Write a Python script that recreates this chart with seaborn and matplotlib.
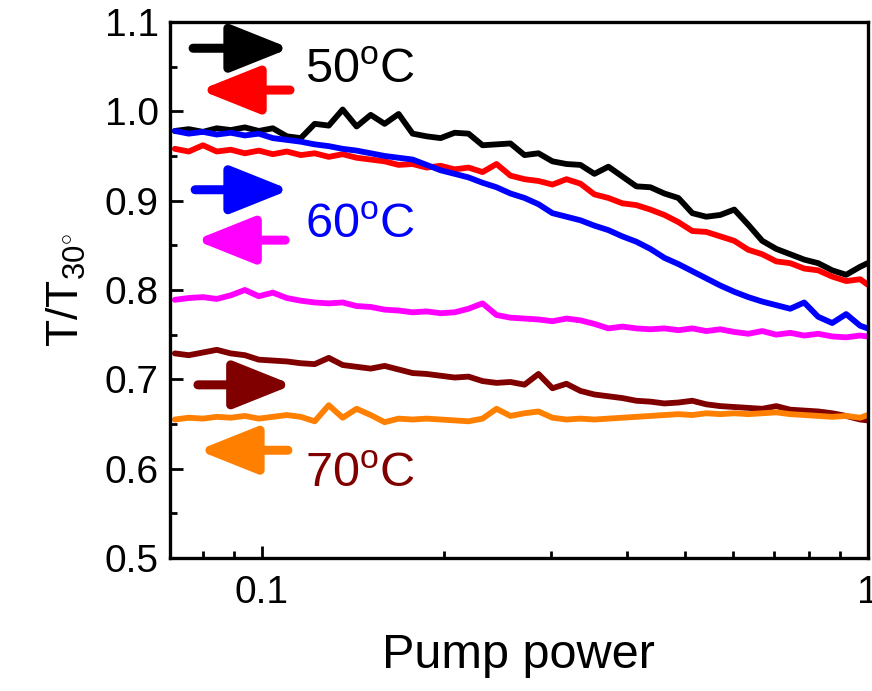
import numpy as np
import pandas as pd
import matplotlib
matplotlib.use("Agg")
import matplotlib.pyplot as plt
from matplotlib.ticker import FixedLocator, NullFormatter, MultipleLocator
import seaborn as sns

# pump power grid (log spaced)
pump_power = [0.0718, 0.0757, 0.0799, 0.0842, 0.0888, 0.0937, 0.0988, 0.1042, 0.1099, 0.1159,
              0.1222, 0.1289, 0.1359, 0.1433, 0.1512, 0.1594, 0.1681, 0.1773, 0.1870, 0.1972,
              0.2080, 0.2193, 0.2313, 0.2439, 0.2572, 0.2713, 0.2861, 0.3017, 0.3182, 0.3356,
              0.3539, 0.3732, 0.3936, 0.4151, 0.4378, 0.4617, 0.4869, 0.5135, 0.5415, 0.5711,
              0.6023, 0.6352, 0.6699, 0.7065, 0.7451, 0.7857, 0.8286, 0.8739, 0.9216, 0.9720, 1.0]

t50_up = [0.978, 0.980, 0.977, 0.981, 0.979, 0.982, 0.978, 0.981, 0.972, 0.970,
          0.986, 0.984, 1.002, 0.983, 0.996, 0.986, 0.997, 0.975, 0.972, 0.970,
          0.976, 0.975, 0.962, 0.963, 0.964, 0.951, 0.953, 0.944, 0.941, 0.940,
          0.930, 0.938, 0.927, 0.916, 0.915, 0.908, 0.903, 0.886, 0.882, 0.884,
          0.890, 0.873, 0.855, 0.846, 0.840, 0.834, 0.830, 0.822, 0.817, 0.826, 0.830]

t50_down = [0.958, 0.955, 0.962, 0.955, 0.957, 0.953, 0.956, 0.952, 0.955, 0.951,
            0.953, 0.949, 0.952, 0.948, 0.946, 0.944, 0.940, 0.941, 0.937, 0.939,
            0.935, 0.937, 0.932, 0.941, 0.928, 0.924, 0.922, 0.918, 0.924, 0.919,
            0.907, 0.903, 0.897, 0.895, 0.890, 0.884, 0.876, 0.866, 0.865, 0.860,
            0.855, 0.845, 0.840, 0.832, 0.830, 0.824, 0.822, 0.815, 0.810, 0.812, 0.806]

t60_up = [0.978, 0.975, 0.977, 0.974, 0.976, 0.973, 0.975, 0.970, 0.968, 0.966,
          0.963, 0.961, 0.958, 0.956, 0.953, 0.950, 0.948, 0.946, 0.940, 0.934,
          0.930, 0.926, 0.920, 0.915, 0.908, 0.903, 0.896, 0.886, 0.882, 0.878,
          0.872, 0.867, 0.860, 0.854, 0.846, 0.836, 0.829, 0.821, 0.813, 0.805,
          0.798, 0.792, 0.787, 0.783, 0.779, 0.786, 0.770, 0.763, 0.773, 0.760, 0.757]

t60_down = [0.789, 0.791, 0.792, 0.790, 0.794, 0.800, 0.793, 0.797, 0.791, 0.788,
            0.786, 0.785, 0.786, 0.782, 0.781, 0.778, 0.777, 0.775, 0.776, 0.774,
            0.775, 0.779, 0.785, 0.772, 0.769, 0.768, 0.767, 0.765, 0.768, 0.766,
            0.762, 0.757, 0.759, 0.757, 0.756, 0.757, 0.755, 0.757, 0.754, 0.756,
            0.753, 0.751, 0.754, 0.750, 0.752, 0.749, 0.751, 0.748, 0.747, 0.749, 0.748]

t70_up = [0.729, 0.727, 0.730, 0.733, 0.729, 0.727, 0.722, 0.721, 0.720, 0.718,
          0.717, 0.724, 0.716, 0.714, 0.712, 0.715, 0.711, 0.707, 0.706, 0.704,
          0.702, 0.703, 0.698, 0.696, 0.697, 0.694, 0.706, 0.690, 0.695, 0.687,
          0.683, 0.681, 0.679, 0.676, 0.675, 0.673, 0.674, 0.676, 0.672, 0.670,
          0.669, 0.668, 0.667, 0.670, 0.666, 0.665, 0.664, 0.662, 0.659, 0.655, 0.654]

t70_down = [0.655, 0.657, 0.656, 0.658, 0.657, 0.659, 0.656, 0.658, 0.660, 0.658,
            0.653, 0.671, 0.657, 0.667, 0.660, 0.652, 0.656, 0.655, 0.656, 0.655,
            0.654, 0.653, 0.656, 0.667, 0.659, 0.662, 0.664, 0.657, 0.655, 0.656,
            0.655, 0.656, 0.657, 0.658, 0.659, 0.660, 0.661, 0.660, 0.662, 0.661,
            0.662, 0.661, 0.662, 0.663, 0.661, 0.660, 0.659, 0.658, 0.659, 0.657, 0.660]

series_names = ["50 up", "50 down", "60 up", "60 down", "70 up", "70 down"]
series_values = [t50_up, t50_down, t60_up, t60_down, t70_up, t70_down]
colors = ["#000000", "#ff0000", "#0000ff", "#ff00ff", "#800000", "#ff8000"]

df = pd.concat([pd.DataFrame({"power": pump_power, "T": v, "run": n})
                for n, v in zip(series_names, series_values)], ignore_index=True)

sns.set_style("ticks")
plt.rcParams["font.family"] = ["Liberation Sans", "DejaVu Sans"]
plt.rcParams["mathtext.fontset"] = "custom"
plt.rcParams["mathtext.rm"] = "Liberation Sans"
plt.rcParams["mathtext.it"] = "Liberation Sans"
for key in ["text.color", "axes.labelcolor", "xtick.color", "ytick.color", "axes.edgecolor"]:
    plt.rcParams[key] = "black"

fig = plt.figure(figsize=(8.72, 6.91), dpi=100)
ax = fig.add_axes([0.195, 0.1925, 0.8, 0.7757])

sns.lineplot(data=df, x="power", y="T", hue="run", palette=colors,
             linewidth=4.2, legend=False, ax=ax, sort=False)

ax.set_xscale("log")
ax.set_xlim(0.0705, 1.0)
ax.set_ylim(0.5, 1.1)
ax.xaxis.set_major_locator(FixedLocator([0.1, 1.0]))
ax.set_xticklabels(["0.1", "1"])
ax.xaxis.set_minor_locator(FixedLocator([0.08, 0.09, 0.2, 0.3, 0.4, 0.5, 0.6, 0.7, 0.8, 0.9]))
ax.xaxis.set_minor_formatter(NullFormatter())
ax.yaxis.set_minor_locator(MultipleLocator(0.05))
ax.set_yticks([0.5, 0.6, 0.7, 0.8, 0.9, 1.0, 1.1])
ax.set_yticklabels(["0.5", "0.6", "0.7", "0.8", "0.9", "1.0", "1.1"])

ax.tick_params(which="both", direction="in", top=False, right=False, labelsize=28)
ax.tick_params(axis="x", pad=12)
ax.tick_params(axis="y", pad=8)
ax.tick_params(which="major", length=9, width=2)
ax.tick_params(which="minor", length=5, width=2)
for s in ax.spines.values():
    s.set_linewidth(2.4)
    s.set_visible(True)

ax.set_xlabel("Pump power", fontsize=35, labelpad=16)
ax.set_ylabel(r"T/T$_{30^{\circ}}$", fontsize=32, labelpad=12)

# direction arrows
arrows = [(0.033, 0.172, 0.951, "#000000"), (0.172, 0.043, 0.873, "#ff0000"),
          (0.036, 0.172, 0.687, "#0000ff"), (0.165, 0.036, 0.593, "#ff00ff"),
          (0.040, 0.176, 0.323, "#800000"), (0.169, 0.040, 0.201, "#ff8000")]
for x0, x1, y, c in arrows:
    ax.annotate("", xy=(x1, y), xytext=(x0, y), xycoords="axes fraction",
                arrowprops=dict(arrowstyle="-|>,head_length=1.5,head_width=0.6",
                                color=c, lw=6.5, mutation_scale=24, shrinkA=0, shrinkB=0))

for label, y, c in [("50", 0.91, "#000000"), ("60", 0.621, "#0000ff"), ("70", 0.155, "#800000")]:
    ax.text(0.193, y, label + r"$^{\mathrm{o}}$C", transform=ax.transAxes, fontsize=35,
            color=c, va="center")

fig.savefig("out.png", dpi=100)
